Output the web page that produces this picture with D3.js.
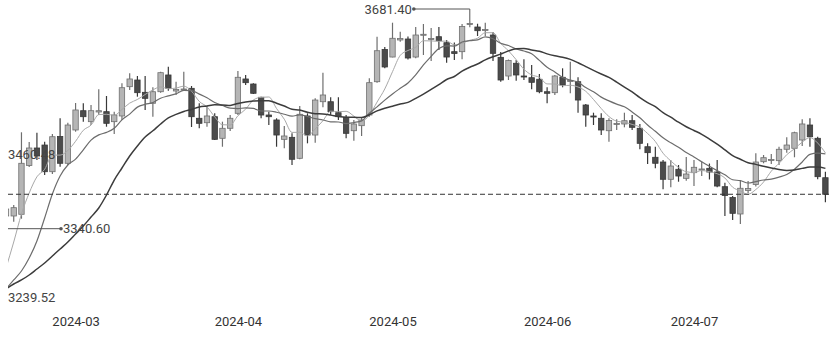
<!DOCTYPE html>
<html>
<head>
<meta charset="utf-8">
<script src="https://cdn.jsdelivr.net/npm/d3@7"></script>
<style>
  body { margin: 0; background: #fff; }
  svg { display: block; font-family: Roboto, "Liberation Sans", sans-serif; }
</style>
</head>
<body>
<svg id="chart" width="836" height="337"></svg>
<script>
// trading days shown (Feb 19 - Jul 24, 2024)
const dates = [
  "2024-02-19","2024-02-20","2024-02-21","2024-02-22","2024-02-23","2024-02-26","2024-02-27","2024-02-28","2024-02-29",
  "2024-03-01","2024-03-04","2024-03-05","2024-03-06","2024-03-07","2024-03-08","2024-03-11","2024-03-12","2024-03-13","2024-03-14","2024-03-15",
  "2024-03-18","2024-03-19","2024-03-20","2024-03-21","2024-03-22","2024-03-25","2024-03-26","2024-03-27","2024-03-28","2024-03-29",
  "2024-04-01","2024-04-02","2024-04-03","2024-04-08","2024-04-09","2024-04-10","2024-04-11","2024-04-12","2024-04-15","2024-04-16",
  "2024-04-17","2024-04-18","2024-04-19","2024-04-22","2024-04-23","2024-04-24","2024-04-25","2024-04-26","2024-04-29","2024-04-30",
  "2024-05-06","2024-05-07","2024-05-08","2024-05-09","2024-05-10","2024-05-13","2024-05-14","2024-05-15","2024-05-16","2024-05-17",
  "2024-05-20","2024-05-21","2024-05-22","2024-05-23","2024-05-24","2024-05-27","2024-05-28","2024-05-29","2024-05-30","2024-05-31",
  "2024-06-03","2024-06-04","2024-06-05","2024-06-06","2024-06-07","2024-06-11","2024-06-12","2024-06-13","2024-06-14","2024-06-17",
  "2024-06-18","2024-06-19","2024-06-20","2024-06-21","2024-06-24","2024-06-25","2024-06-26","2024-06-27","2024-06-28",
  "2024-07-01","2024-07-02","2024-07-03","2024-07-04","2024-07-05","2024-07-08","2024-07-09","2024-07-10","2024-07-11","2024-07-12",
  "2024-07-15","2024-07-16","2024-07-17","2024-07-18","2024-07-19","2024-07-22","2024-07-23","2024-07-24"
];

const open = [
  3359.9,3359.9,3362.7,3443.1,3472.0,3476.9,3432.9,3491.0,3446.8,3501.7,
  3533.5,3515.4,3531.4,3531.9,3515.4,3524.8,3573.1,3584.1,3563.8,3545.7,
  3564.8,3592.4,3566.0,3567.6,3570.4,3521.0,3513.7,3523.6,3488.0,3504.5,
  3529.2,3585.8,3577.5,3555.6,3526.4,3518.2,3486.3,3489.6,3455.0,3524.8,
  3493.4,3548.3,3548.3,3530.2,3522.6,3500.5,3508.8,3526.4,3581.3,3634.4,
  3622.0,3650.1,3651.7,3622.0,3658.3,3650.9,3655.5,3645.6,3630.8,3630.8,
  3675.6,3671.5,3665.7,3658.3,3621.5,3590.7,3611.7,3590.7,3587.9,3585.3,
  3564.8,3563.2,3588.6,3581.6,3581.3,3542.9,3524.8,3521.0,3500.5,3510.7,
  3511.6,3517.0,3504.5,3474.1,3456.7,3448.9,3420.4,3436.9,3422.0,3431.3,
  3435.7,3438.5,3432.4,3408.2,3390.4,3363.2,3401.9,3411.8,3449.4,3451.4,
  3451.1,3469.9,3471.5,3485.2,3509.9,3488.0,3423.0
];
const close = [
  3371.4,3373.6,3446.8,3472.0,3458.8,3432.9,3490.6,3446.8,3509.9,3534.7,
  3523.6,3533.5,3533.5,3512.7,3526.4,3571.4,3585.8,3563.2,3553.9,3564.8,
  3596.2,3570.4,3568.5,3569.3,3523.6,3512.7,3524.8,3486.3,3504.5,3521.0,
  3588.6,3579.7,3562.2,3526.4,3523.6,3493.4,3491.8,3453.4,3527.6,3493.4,
  3551.1,3559.4,3531.9,3523.6,3496.2,3511.6,3518.2,3579.7,3632.4,3605.6,
  3652.9,3652.5,3620.4,3658.3,3659.5,3652.5,3648.9,3622.0,3627.8,3672.3,
  3677.3,3665.4,3667.4,3628.1,3584.1,3616.3,3592.4,3589.1,3580.3,3564.8,
  3562.2,3590.7,3575.9,3583.3,3551.1,3526.4,3523.1,3501.7,3517.3,3512.4,
  3517.0,3506.1,3479.7,3464.3,3446.8,3420.4,3442.3,3425.8,3429.1,3440.2,
  3437.4,3432.4,3409.3,3393.7,3364.3,3405.6,3405.2,3448.9,3456.0,3453.0,
  3469.9,3476.9,3497.2,3511.6,3490.6,3424.7,3395.7
];
const high = [
  3376.4,3378.0,3497.9,3481.9,3497.2,3482.4,3495.1,3521.0,3513.7,3546.2,
  3545.7,3542.9,3568.8,3557.7,3531.9,3578.7,3595.2,3590.7,3590.7,3572.1,
  3597.8,3606.0,3581.3,3597.8,3574.2,3545.7,3541.3,3529.2,3515.4,3526.4,
  3599.0,3592.4,3578.7,3556.6,3531.9,3521.0,3508.3,3496.2,3541.3,3529.2,
  3553.9,3596.2,3555.6,3555.6,3526.4,3518.2,3522.6,3586.9,3655.5,3638.5,
  3678.6,3663.8,3655.8,3671.5,3676.5,3669.9,3671.5,3650.1,3646.0,3676.5,
  3681.4,3676.9,3678.6,3663.3,3630.3,3617.9,3617.1,3618.2,3608.9,3594.0,
  3572.1,3592.4,3603.4,3614.3,3588.6,3544.5,3530.2,3529.2,3521.0,3519.3,
  3530.2,3526.4,3511.6,3479.7,3474.1,3452.2,3452.2,3444.0,3457.2,3452.2,
  3449.4,3446.4,3452.2,3414.8,3392.9,3418.4,3417.6,3463.3,3460.5,3462.1,
  3474.1,3489.6,3498.9,3519.3,3521.0,3490.6,3432.9
];
const low = [
  3340.6,3350.5,3355.4,3440.7,3452.2,3427.5,3429.1,3441.2,3444.0,3498.9,
  3515.4,3509.9,3526.4,3507.1,3495.1,3518.2,3567.6,3556.6,3534.7,3523.6,
  3563.2,3566.5,3559.4,3566.0,3506.6,3504.5,3507.1,3485.2,3474.1,3500.0,
  3526.4,3575.9,3561.0,3521.0,3509.9,3474.1,3471.5,3444.0,3453.4,3479.7,
  3480.7,3539.1,3526.4,3518.2,3488.0,3484.0,3491.8,3523.6,3579.7,3603.4,
  3621.5,3647.3,3617.9,3619.9,3625.3,3615.4,3633.6,3612.6,3617.1,3618.2,
  3671.0,3656.7,3656.7,3615.4,3581.3,3584.1,3583.0,3584.1,3568.8,3562.2,
  3545.7,3559.4,3572.1,3562.2,3530.2,3507.1,3509.9,3493.4,3482.4,3501.7,
  3506.1,3501.7,3469.9,3445.6,3438.5,3403.9,3407.2,3416.4,3418.1,3409.3,
  3425.8,3420.1,3407.2,3359.9,3353.3,3346.7,3397.8,3408.5,3446.8,3445.6,
  3444.0,3464.3,3456.7,3475.3,3474.1,3420.4,3382.5
];

const ma5 = [
  3274.1,3317.0,3363.2,3397.8,3424.5,3436.9,3460.3,3460.3,3467.9,3483.1,
  3501.2,3509.8,3527.1,3527.6,3525.9,3535.5,3546.0,3552.0,3560.2,3567.8,
  3572.7,3569.8,3570.8,3573.9,3565.7,3548.8,3539.8,3523.3,3510.4,3509.9,
  3525.1,3536.0,3551.1,3555.6,3556.1,3537.1,3519.5,3497.7,3497.9,3492.0,
  3503.5,3517.0,3532.7,3531.9,3532.5,3524.6,3516.4,3525.9,3547.7,3569.4,
  3597.8,3624.7,3632.8,3637.9,3648.8,3648.6,3647.9,3648.3,3642.2,3644.8,
  3649.7,3653.0,3662.1,3662.1,3644.5,3632.3,3617.6,3601.9,3592.4,3588.6,
  3577.7,3577.4,3574.7,3575.4,3572.6,3565.5,3552.0,3537.1,3523.9,3516.2,
  3514.4,3510.9,3506.5,3495.9,3482.7,3463.4,3450.7,3439.9,3432.9,3431.6,
  3434.9,3432.9,3429.6,3422.5,3407.4,3401.1,3395.7,3403.6,3415.9,3433.8,
  3446.6,3461.0,3470.7,3481.7,3489.3,3480.2,3463.9
];
const ma10 = [
  3239.52,3254.4,3269.2,3290.6,3318.7,3356.6,3396.2,3425.8,3444.0,3453.7,
  3469.0,3485.0,3493.6,3497.7,3504.5,3518.3,3527.9,3539.4,3543.9,3546.9,
  3554.1,3557.9,3561.4,3567.0,3566.6,3560.9,3554.8,3547.0,3542.1,3537.8,
  3537.0,3538.0,3537.3,3533.0,3533.0,3531.0,3527.7,3524.4,3526.7,3523.9,
  3520.3,3518.2,3515.2,3514.9,3512.2,3514.0,3516.7,3529.2,3539.8,3551.0,
  3561.2,3570.4,3579.3,3592.7,3609.0,3623.2,3636.2,3640.5,3640.0,3646.8,
  3649.1,3650.4,3655.2,3652.1,3644.6,3641.0,3635.2,3631.9,3627.3,3616.4,
  3605.1,3597.5,3588.4,3584.0,3580.7,3571.6,3564.7,3555.9,3549.7,3544.4,
  3539.9,3531.4,3521.8,3509.9,3499.5,3488.8,3480.7,3473.2,3464.4,3457.2,
  3449.2,3441.8,3434.7,3427.8,3419.6,3418.1,3414.3,3416.6,3419.2,3420.6,
  3423.9,3428.3,3437.0,3448.9,3461.5,3463.4,3462.4
];
const ma20 = [
  3239.52,3247.8,3254.4,3262.6,3272.5,3282.4,3293.9,3305.5,3317.0,3330.2,
  3343.4,3358.2,3373.1,3394.5,3419.2,3439.0,3458.8,3475.3,3490.1,3500.4,
  3511.6,3521.5,3527.4,3532.3,3535.6,3539.6,3541.3,3543.2,3543.1,3542.2,
  3545.5,3547.8,3549.3,3550.0,3549.8,3545.9,3541.3,3535.8,3534.5,3530.9,
  3528.6,3528.1,3526.2,3523.9,3522.6,3522.5,3522.1,3526.9,3533.2,3537.5,
  3540.8,3544.4,3547.2,3553.8,3560.7,3568.6,3576.4,3584.9,3589.9,3598.8,
  3605.2,3610.5,3617.3,3622.4,3626.8,3632.1,3635.7,3636.2,3633.6,3631.6,
  3627.2,3624.0,3621.7,3618.1,3612.6,3606.2,3599.9,3594.0,3588.4,3580.5,
  3572.4,3564.5,3555.1,3546.9,3540.1,3530.2,3522.8,3514.5,3507.0,3500.9,
  3494.6,3486.7,3478.3,3468.9,3459.5,3453.4,3447.6,3445.0,3441.8,3438.9,
  3436.6,3435.1,3435.9,3438.4,3440.5,3440.7,3438.4
];

const monthTicks = ["2024-03-01", "2024-04-01", "2024-05-06", "2024-06-03", "2024-07-01"];
const sideLabel = "3460.48";

const width = 836, height = 337;
const svg = d3.select("#chart");

const x = d3.scalePoint().domain(dates).range([6, 825.4]);
const y = d3.scaleLinear().domain([3239.52, 3681.40]).range([289, 21]);

svg.append("rect").attr("width", width).attr("height", height).attr("fill", "#fff");

svg.append("defs").append("clipPath").attr("id", "plot")
  .append("rect").attr("x", 8).attr("y", 0).attr("width", 823).attr("height", 305);

const plot = svg.append("g").attr("clip-path", "url(#plot)");

// candles
const candles = dates.map((d, i) => ({ d, o: open[i], c: close[i], h: high[i], l: low[i] }));
const bodyW = 5.4;
const upFill = "#b5b5b5", upStroke = "#6f6f6f", downFill = "#4b4b4b", downStroke = "#383838";

const cg = plot.selectAll("g.candle").data(candles).join("g").attr("class", "candle");
cg.append("line")
  .attr("x1", d => x(d.d)).attr("x2", d => x(d.d))
  .attr("y1", d => y(d.h)).attr("y2", d => y(d.l))
  .attr("stroke", d => d.c >= d.o ? upStroke : downStroke)
  .attr("stroke-width", 1.2);
cg.append("rect")
  .attr("x", d => x(d.d) - bodyW / 2)
  .attr("width", bodyW)
  .attr("y", d => y(Math.max(d.o, d.c)))
  .attr("height", d => Math.max(1, Math.abs(y(d.o) - y(d.c))))
  .attr("fill", d => d.c >= d.o ? upFill : downFill)
  .attr("stroke", d => d.c >= d.o ? upStroke : downStroke)
  .attr("stroke-width", 0.8);

// moving averages
const line = d3.line()
  .x((d, i) => x(dates[i]))
  .y(d => y(d))
  .curve(d3.curveMonotoneX);

[[ma5, "#a8a8a8", 1], [ma10, "#6c6c6c", 1.2], [ma20, "#3c3c3c", 1.5]].forEach(([vals, col, w]) => {
  plot.append("path")
    .attr("d", line(vals))
    .attr("fill", "none")
    .attr("stroke", col)
    .attr("stroke-width", w);
});

// last close dashed line
const lastClose = close[close.length - 1];
svg.append("line")
  .attr("x1", 8).attr("x2", 831)
  .attr("y1", y(lastClose)).attr("y2", y(lastClose))
  .attr("stroke", "#333").attr("stroke-width", 1)
  .attr("stroke-dasharray", "5,3");

const labelColor = "#444";

// highest high marker
const iMax = d3.maxIndex(high);
const mxX = x(dates[iMax]), mxY = y(high[iMax]);
const elbowY = 9;
svg.append("polyline")
  .attr("points", `${mxX - 56},${elbowY} ${mxX},${elbowY} ${mxX},${mxY}`)
  .attr("fill", "none").attr("stroke", "#555").attr("stroke-width", 1);
svg.append("circle").attr("cx", mxX - 56).attr("cy", elbowY).attr("r", 1.8).attr("fill", "#555");
svg.append("text")
  .attr("x", mxX - 58).attr("y", elbowY + 4.5)
  .attr("text-anchor", "end").attr("font-size", 13).attr("fill", labelColor)
  .text(d3.format(".2f")(high[iMax]));

// lowest low marker
const iMin = d3.minIndex(low);
const mnX = x(dates[iMin]), mnY = y(low[iMin]);
plot.append("line")
  .attr("x1", mnX).attr("x2", mnX + 55)
  .attr("y1", mnY + 1).attr("y2", mnY + 1)
  .attr("stroke", "#555").attr("stroke-width", 1);
svg.append("circle").attr("cx", mnX + 55).attr("cy", mnY + 1).attr("r", 1.8).attr("fill", "#555");
svg.append("text")
  .attr("x", mnX + 57).attr("y", mnY + 5.5)
  .attr("font-size", 13).attr("fill", labelColor)
  .text(d3.format(".2f")(low[iMin]));

// lowest moving average value
const maMin = d3.min([...ma5, ...ma10, ...ma20]);
svg.append("text")
  .attr("x", 8).attr("y", y(maMin) + 12.5)
  .attr("font-size", 13).attr("fill", labelColor)
  .text(d3.format(".2f")(maMin));

svg.append("text")
  .attr("x", 8).attr("y", y(+sideLabel) + 4.5)
  .attr("font-size", 13).attr("fill", labelColor)
  .text(sideLabel);

// x axis
const xAxis = svg.append("g")
  .attr("transform", "translate(0,314)")
  .call(d3.axisBottom(x).tickValues(monthTicks).tickSize(0).tickPadding(3).tickFormat(d => d.slice(0, 7)));
xAxis.select(".domain").remove();
xAxis.selectAll("text").attr("font-size", 13).attr("fill", "#333").attr("font-family", "Roboto, 'Liberation Sans', sans-serif");
</script>
</body>
</html>
